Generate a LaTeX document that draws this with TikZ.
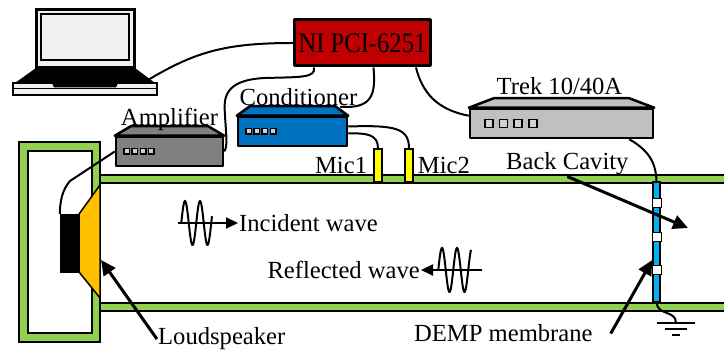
\documentclass[tikz,border=0pt]{standalone}
\usepackage{fontspec}
\setmainfont{Liberation Serif}
\usetikzlibrary{positioning,calc,arrows.meta}
\definecolor{niRed}{HTML}{C00000}
\definecolor{ampGray}{HTML}{808080}
\definecolor{condBlue}{HTML}{0070C0}
\definecolor{trekGray}{HTML}{C0C0C0}
\definecolor{tubeGreen}{HTML}{92D050}
\definecolor{coneYellow}{HTML}{FFC000}
\definecolor{micYellow}{HTML}{FFFF00}
\definecolor{membraneBlue}{HTML}{00B0F0}
\tikzset{
    devline/.style={draw=black, line width=2.5pt, line join=round},
    devbody/.style={devline, inner sep=0pt, minimum height=29pt},
    btn/.style={draw=black, line width=1.5pt, fill=gray!35},
    lbl/.style={font=\fontsize{24.6}{28}\selectfont, inner sep=1pt},
    cable/.style={line width=2pt},
    wall/.style={draw=black, line width=2pt, fill=tubeGreen},
    mic/.style={draw=black, line width=1.5pt, fill=micYellow, minimum width=8pt, minimum height=33pt, inner sep=0pt},
    patch/.style={draw=black, line width=1pt, fill=white, minimum size=9pt, inner sep=0pt},
    callout/.style={line width=3pt, -{Triangle[length=15pt,width=14pt]}},
    wave/.style={line width=2pt},
    waveaxis/.style={line width=2pt, -{Triangle[length=12pt,width=11pt]}}
}
% bevelled lid and front buttons of a rack unit
\newcommand{\devtop}[3]{\draw[devline, fill=#3] (#1.north west) -- ++(#2,-9.5) -- ($(#1.north east)+(-#2,-9.5)$) -- (#1.north east) -- cycle;}
\newcommand{\devbtns}[4]{\foreach \k in {0,...,3} \draw[btn] ($(#1.west)+(#2+\k*#3,-#4/2)$) rectangle ++(#4,#4);}

\begin{document}
\begin{tikzpicture}[x=1pt, y=-1pt]
\useasboundingbox (0,0) rectangle (724,352);

% enclosure and tube
\filldraw[wall] (19,142) rectangle (100,342);
\filldraw[draw=black, line width=2pt, fill=white] (28,151) rectangle (92,333);
\filldraw[wall] (100,175) rectangle (740,183);
\filldraw[wall] (100,303) rectangle (740,311);

% membrane between the walls
\node[draw=black, line width=1.5pt, fill=membraneBlue, minimum width=7pt, minimum height=120pt, inner sep=0pt] (mem) at (656.5,242) {};
\node[patch] (p1) at (657,203) {};
\node[patch] (p2) at (657,237) {};
\node[patch] (p3) at (657,270) {};

% loudspeaker
\node[draw=black, fill=black, minimum width=19pt, minimum height=58pt, inner sep=0pt] (mag) at (69.5,243) {};
\filldraw[draw=black, line width=1.5pt, fill=coneYellow] (mag.north east) -- (100,185) -- (100,298) -- (mag.south east) -- cycle;
\coordinate (conetip) at (101,260);

% laptop
\filldraw[draw=black, line width=3pt, fill=gray!12] (36,9.5) rectangle (134,67.5);
\filldraw[draw=black, line width=2.5pt, fill=gray!12] (41,14) rectangle (129,60);
\fill (36,68) -- (135,68) -- (155,83) -- (15,83) -- cycle;
\filldraw[draw=black, line width=1.5pt, fill=gray!12] (13,83) rectangle (157,95);
\draw[line width=1.5pt] (13,88.5) -- (157,88.5);
\fill (52,83) -- (118,83) -- (116,87.5) -- (54,87.5) -- cycle;
\coordinate (lapport) at (148,80);

% instruments
\node[devbody, fill=niRed, minimum width=136pt, minimum height=46pt, lbl, line width=3pt] (ni) at (362.5,43) {\scalebox{1}[1.15]{NI PCI-6251}};
\node[devbody, fill=ampGray, minimum width=107pt] (amp) at (169.5,151.5) {};
\node[devbody, fill=condBlue, minimum width=109pt] (cond) at (292.5,131.5) {};
\node[devbody, fill=trekGray, minimum width=183pt] (trek) at (561.5,123.5) {};
\node[mic] (mic1) at (378,165.5) {};
\node[mic] (mic2) at (409,165.5) {};

% cables
\draw[cable] (lapport) .. controls (195,52) and (225,43) .. (ni.west);
\draw[cable] ($(ni.south west)+(21,0)$) .. controls (316,78) and (300,77) .. (265,78)
    .. controls (222,80) and (224,100) .. (225,115) .. controls (226,135) and (228,146) .. (amp.east);
\draw[cable] ($(ni.south)+(11,0)$) .. controls (376,95) and (372,109) .. ($(cond.north east)+(-8,-9)$);
\draw[cable] ($(ni.south east)+(-16,0)$) .. controls (424,100) and (445,111) .. ($(trek.north west)+(0,8)$);
\draw[cable] ($(cond.east)+(0,-5)$) .. controls (395,125) and (409,128) .. (mic2.north);
\draw[cable] ($(cond.east)+(0,2)$) .. controls (366,133) and (378,134) .. (mic1.north);
\draw[cable] (amp.west) -- (70,181) .. controls (62,190) and (60,202) .. (mag.north west);
\draw[cable] ($(trek.south east)+(-25,0)$) .. controls (648,150) and (656,162) .. (mem.north);
\coordinate (gnd) at (676,323);
\draw[cable] (mem.south) .. controls (658,316) and (676,310) .. (gnd);
\draw[cable] ($(gnd)+(-19,0)$) -- ++(38,0);
\draw[cable] ($(gnd)+(-11,6)$) -- ++(22,0);
\draw[cable] ($(gnd)+(-4,12)$) -- ++(8,0);

% lids and buttons
\devtop{amp}{16}{ampGray}
\devtop{cond}{13}{condBlue}
\devtop{trek}{25}{trekGray}
\devbtns{amp}{9}{8.3}{5.5}
\devbtns{cond}{9}{8.2}{5.5}
\devbtns{trek}{16}{14.7}{8}

% labels
\node[lbl, above=4pt of amp] (amplab) {Amplifier};
\node[lbl, above=9pt of cond, xshift=6pt] (condlab) {Conditioner};
\node[lbl, above=12pt of trek, xshift=-2pt] (treklab) {Trek 10/40A};
\node[lbl, left=5pt of mic1] (mic1lab) {Mic1};
\node[lbl, right=3pt of mic2] (mic2lab) {Mic2};
\node[lbl, anchor=base west] (cav) at (505,170) {Back Cavity};
\node[lbl, anchor=base west] (loud) at (157,345) {Loudspeaker};
\node[lbl, anchor=base west] (demp) at (413,342) {DEMP membrane};
\coordinate (cavtip) at (688,228);
\draw[callout] (cav.south) -- (cavtip);
\draw[callout] (loud.west) -- (conetip);
\draw[callout] ([xshift=17pt]demp.east) -- ($(mem.west)+(0,18)$);

% incident and reflected bursts
\node[lbl, anchor=west] (inc) at (238,223) {Incident wave};
\coordinate (incstart) at (178,223);
\draw[waveaxis] (incstart) -- (inc.west);
\draw[wave] plot[domain=181.25:212, samples=60] (\x, {223-22*sin(24*(\x-181.25))});
\node[lbl, anchor=east] (refl) at (421,270) {Reflected wave};
\coordinate (reflend) at (482,270);
\draw[waveaxis] (reflend) -- (refl.east);
\draw[wave, shift={(257,47)}] plot[domain=181.25:214, samples=60] (\x, {223-22*sin(24*(\x-181.25))});
\end{tikzpicture}
\end{document}
